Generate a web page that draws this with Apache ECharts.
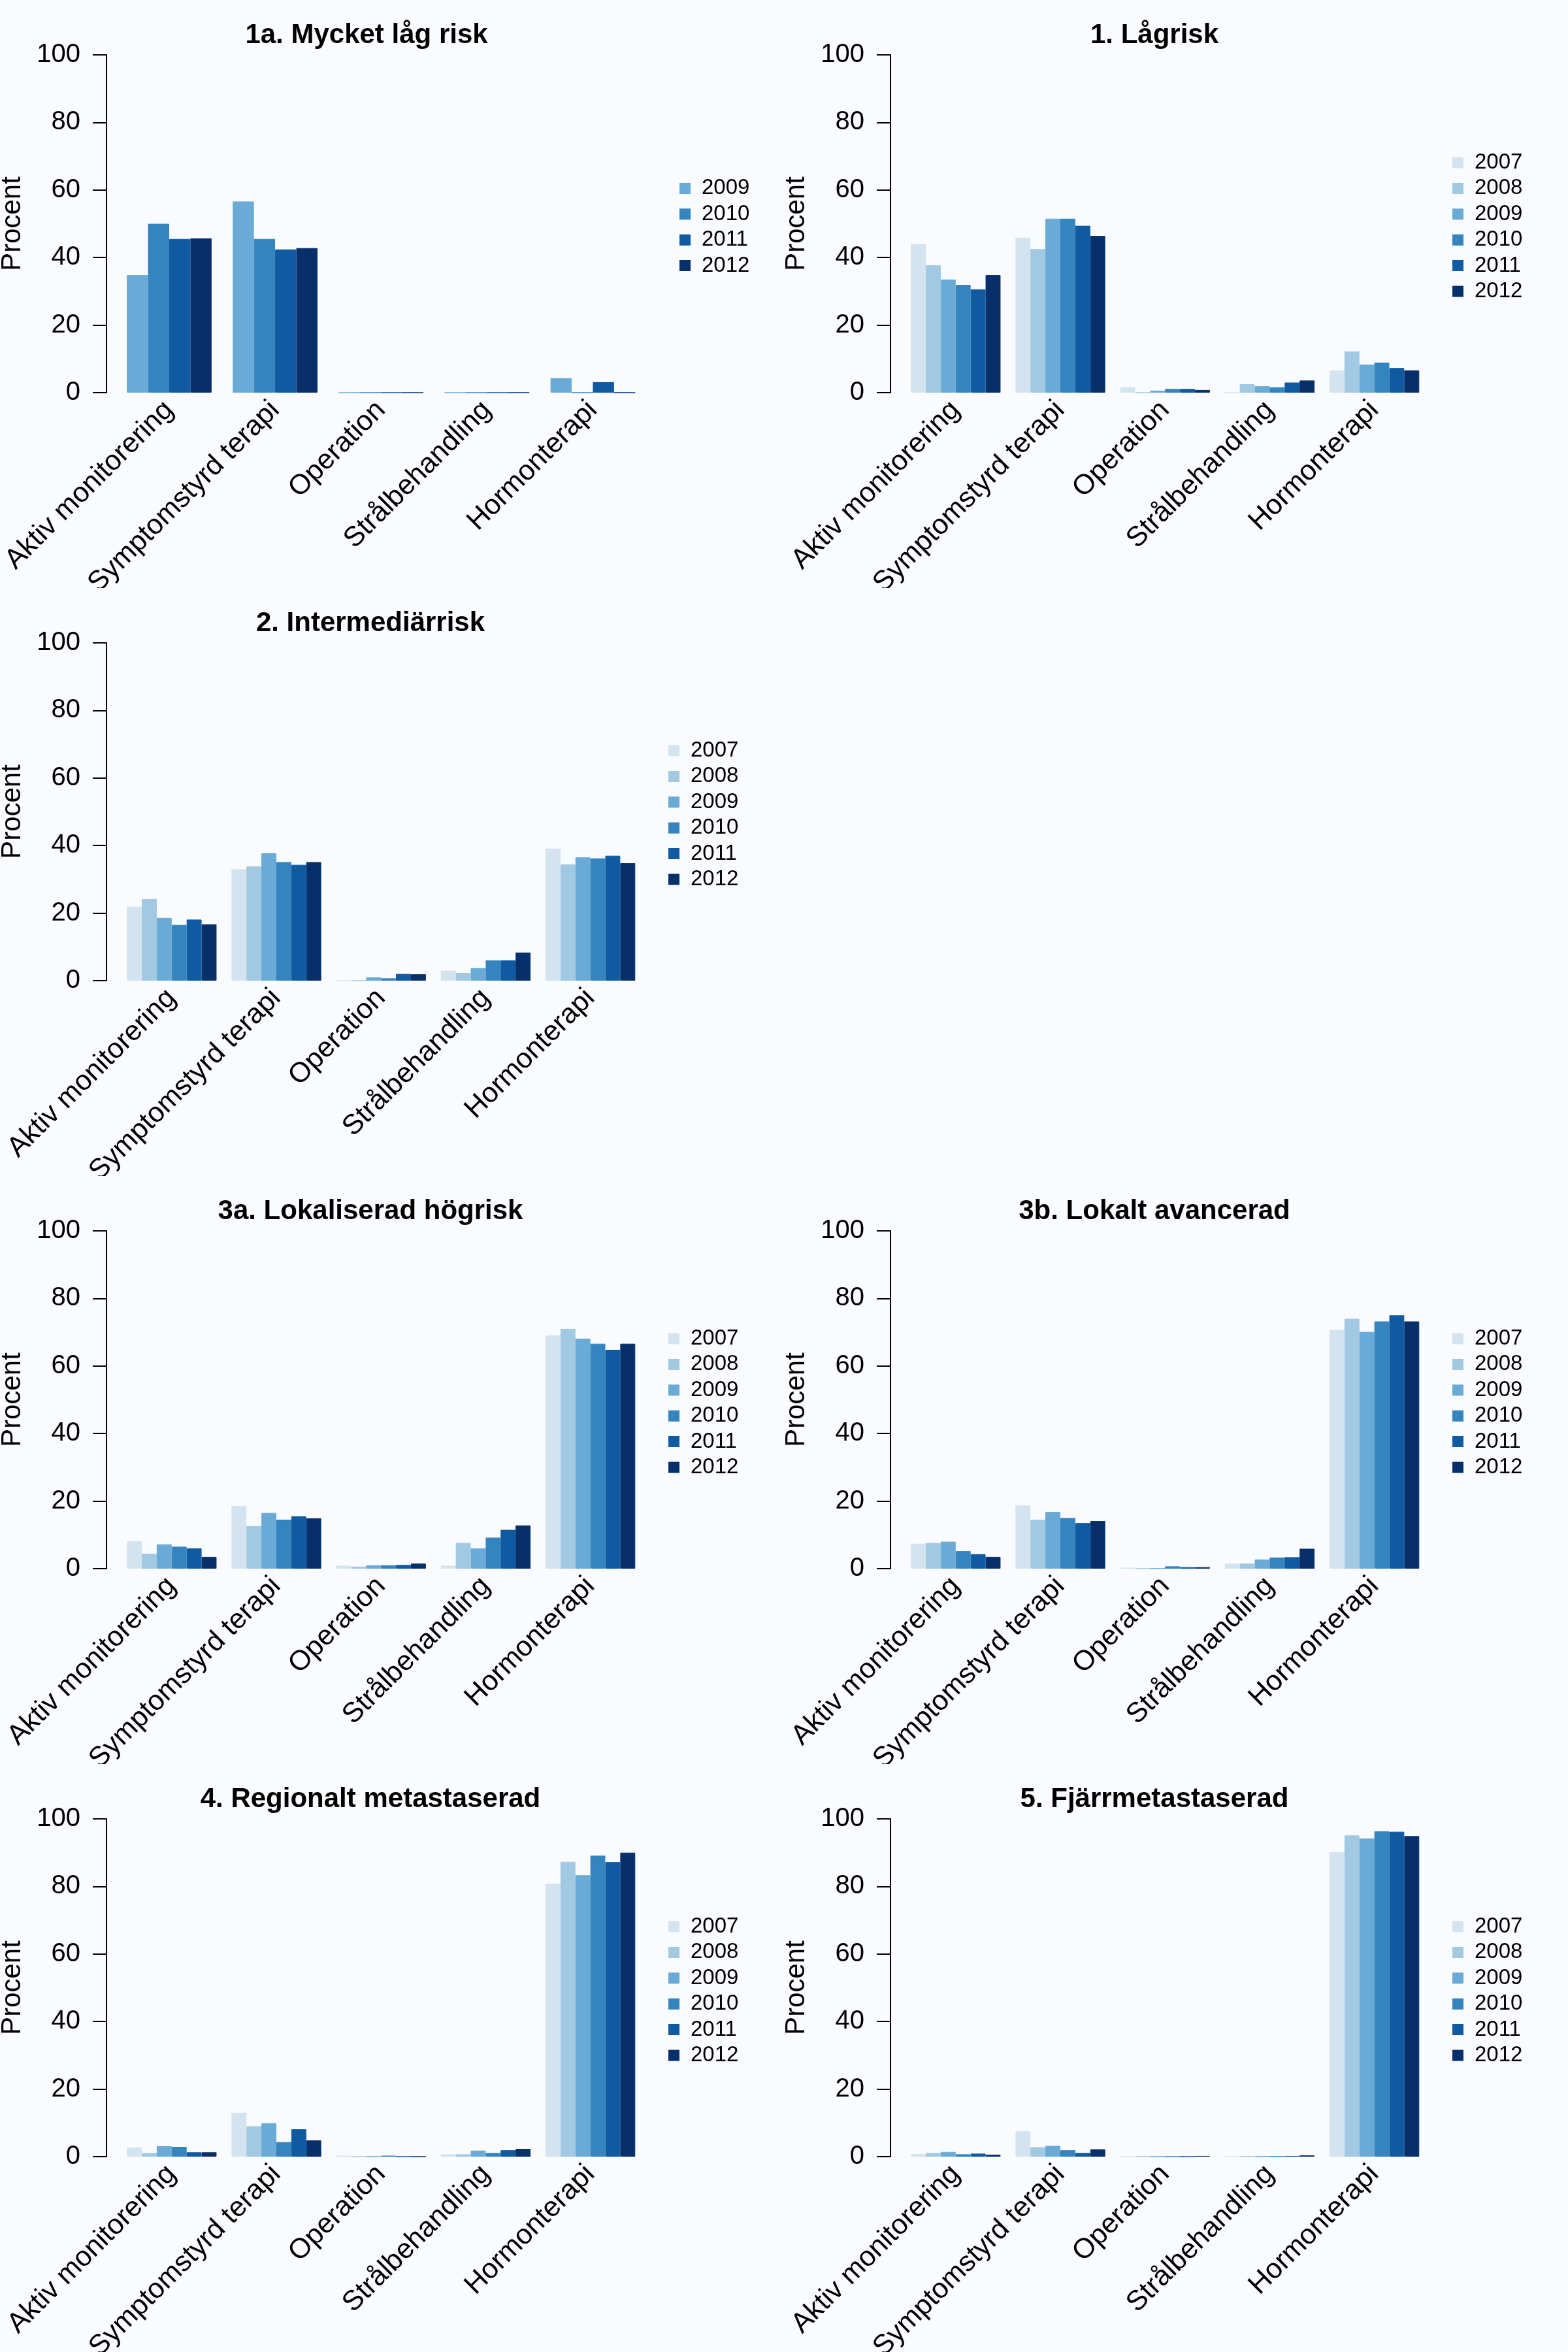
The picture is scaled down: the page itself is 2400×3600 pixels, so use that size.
<!DOCTYPE html>
<html>
<head>
<meta charset="utf-8">
<script src="https://cdn.jsdelivr.net/npm/echarts@6/dist/echarts.min.js"></script>
<style>
  html, body { margin: 0; padding: 0; background: #FAFBFE; }
  #page { position: relative; width: 2400px; height: 3600px; }
  .panel { position: absolute; width: 1200px; height: 900px; }
</style>
</head>
<body>
<div id="page"></div>
<script>
var categories = ['Aktiv monitorering', 'Symptomstyrd terapi', 'Operation', 'Strålbehandling', 'Hormonterapi'];
var yearsAll = ['2007', '2008', '2009', '2010', '2011', '2012'];
var yearsShort = ['2009', '2010', '2011', '2012'];
var yearColors = ['#D3E4F0', '#A2C9E2', '#69ABD6', '#3484C0', '#0F5AA0', '#07306B'];
var yTicks = [0, 20, 40, 60, 80, 100];

// one row per year, one value per category (procent)
var veryLowRisk = [
  [34.8, 56.6, 0, 0, 4.3],
  [50.0, 45.5, 0, 0, 0],
  [45.5, 42.4, 0, 0, 3.1],
  [45.7, 42.8, 0, 0, 0]
];
var lowRisk = [
  [44.0, 45.9, 1.6, 0, 6.6],
  [37.7, 42.5, 0, 2.5, 12.2],
  [33.5, 51.5, 0.6, 1.9, 8.3],
  [31.9, 51.5, 1.1, 1.6, 8.9],
  [30.6, 49.4, 1.1, 3.0, 7.3],
  [34.8, 46.4, 0.8, 3.6, 6.6]
];
var intermediateRisk = [
  [21.9, 33.0, 0, 3.0, 39.1],
  [24.2, 33.8, 0, 2.3, 34.4],
  [18.6, 37.7, 1.0, 3.7, 36.5],
  [16.5, 35.1, 0.7, 6.0, 36.2],
  [18.1, 34.3, 2.0, 6.0, 37.0],
  [16.7, 35.1, 1.9, 8.3, 34.8]
];
var localHighRisk = [
  [8.1, 18.6, 0.9, 0.9, 69.1],
  [4.4, 12.6, 0.6, 7.6, 71.0],
  [7.2, 16.5, 1.0, 6.0, 68.1],
  [6.5, 14.5, 1.0, 9.2, 66.6],
  [6.0, 15.5, 1.1, 11.5, 64.8],
  [3.5, 14.9, 1.5, 12.8, 66.6]
];
var locallyAdvanced = [
  [7.4, 18.7, 0.3, 1.5, 70.7],
  [7.6, 14.5, 0.1, 1.5, 74.0],
  [8.0, 16.8, 0.1, 2.7, 70.1],
  [5.2, 15.0, 0.7, 3.3, 73.2],
  [4.3, 13.5, 0.45, 3.4, 75.0],
  [3.5, 14.1, 0.45, 5.9, 73.2]
];
var regionalMeta = [
  [2.7, 13.0, 0.3, 0.7, 80.8],
  [1.1, 9.0, 0, 0.7, 87.3],
  [3.1, 9.9, 0, 1.8, 83.3],
  [2.9, 4.3, 0.3, 1.1, 89.1],
  [1.3, 8.1, 0, 1.9, 87.2],
  [1.3, 4.8, 0, 2.3, 90.0]
];
var distantMeta = [
  [0.8, 7.5, 0, 0.1, 90.2],
  [1.1, 2.8, 0.1, 0.1, 95.1],
  [1.4, 3.2, 0, 0.1, 94.2],
  [0.7, 1.9, 0, 0.1, 96.3],
  [0.9, 1.1, 0, 0.2, 96.2],
  [0.6, 2.2, 0.2, 0.4, 94.9]
];

var panels = [
  { title: '1a. Mycket låg risk', data: veryLowRisk, years: yearsShort, left: 0, top: 0, titleX: 556, legendX: 1035 },
  { title: '1. Lågrisk', data: lowRisk, years: yearsAll, left: 1200, top: 0, titleX: 562, legendX: 1018 },
  { title: '2. Intermediärrisk', data: intermediateRisk, years: yearsAll, left: 0, top: 900, titleX: 562, legendX: 1018 },
  { title: '3a. Lokaliserad högrisk', data: localHighRisk, years: yearsAll, left: 0, top: 1800, titleX: 562, legendX: 1018 },
  { title: '3b. Lokalt avancerad', data: locallyAdvanced, years: yearsAll, left: 1200, top: 1800, titleX: 562, legendX: 1018 },
  { title: '4. Regionalt metastaserad', data: regionalMeta, years: yearsAll, left: 0, top: 2700, titleX: 562, legendX: 1018 },
  { title: '5. Fjärrmetastaserad', data: distantMeta, years: yearsAll, left: 1200, top: 2700, titleX: 562, legendX: 1018 }
];

var font = 'Liberation Sans, Arial, sans-serif';
var plotLeft = 163, plotW = 840.4, plotTop = 84, plotH = 517;
var legendStep = 39.4, legendRow = 33;

function drawPanel(p) {
  var div = document.createElement('div');
  div.className = 'panel';
  div.style.left = p.left + 'px';
  div.style.top = p.top + 'px';
  document.getElementById('page').appendChild(div);
  var chart = echarts.init(div);

  var n = p.years.length;
  // R barplot: one empty bar between groups, plot region 4% wider than the bars
  var barRange = plotW / 1.08;
  var gridW = barRange * (5 * n + 5) / (5 * n + 4);
  var gridLeft = plotLeft + (plotW - gridW) / 2;

  var series = p.years.map(function (y, i) {
    var c = yearColors[yearsAll.indexOf(y)];
    return {
      name: y,
      type: 'bar',
      data: p.data[i],
      barGap: '0%',
      barCategoryGap: (100 / (n + 1)) + '%',
      itemStyle: { color: c, borderColor: c, borderWidth: 1 },
      emphasis: { disabled: true }
    };
  });

  var legendTop = plotTop + plotH / 2 - (n * legendStep) / 2 + (legendStep - legendRow) / 2;

  chart.setOption({
    animation: false,
    backgroundColor: 'transparent',
    title: {
      text: p.title,
      left: p.titleX,
      top: 28,
      textAlign: 'center',
      textStyle: { fontFamily: font, fontSize: 42, fontWeight: 'bold', color: '#000' }
    },
    legend: {
      orient: 'vertical',
      left: p.legendX,
      top: legendTop,
      icon: 'rect',
      itemWidth: 15,
      itemHeight: 15,
      itemGap: legendStep - legendRow,
      data: p.years,
      selectedMode: false,
      textStyle: { fontFamily: font, fontSize: 33, color: '#000', padding: [0, 0, 0, 13] }
    },
    grid: { left: gridLeft, top: plotTop, width: gridW, height: plotH, outerBoundsMode: 'none', containLabel: false },
    xAxis: {
      type: 'category',
      data: categories,
      axisLine: { show: false },
      axisTick: { show: false },
      axisLabel: { interval: 0, rotate: 45, margin: 20, fontFamily: font, fontSize: 43, color: '#000' }
    },
    yAxis: {
      type: 'value',
      min: yTicks[0],
      max: yTicks[yTicks.length - 1],
      interval: yTicks[1] - yTicks[0],
      offset: gridLeft - plotLeft,
      name: 'Procent',
      nameLocation: 'middle',
      nameGap: 123,
      nameTextStyle: { fontFamily: font, fontSize: 42, color: '#000' },
      axisLine: { show: true, lineStyle: { color: '#000', width: 2 } },
      axisTick: { show: true, length: 21, lineStyle: { color: '#000', width: 2 } },
      axisLabel: { margin: 40, fontFamily: font, fontSize: 40, color: '#000' },
      splitLine: { show: false }
    },
    series: series
  });
}

panels.forEach(drawPanel);
</script>
</body>
</html>
